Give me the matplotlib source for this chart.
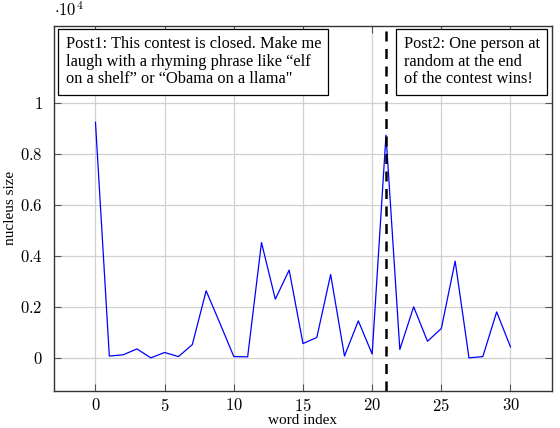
import matplotlib
matplotlib.use('Agg')
import matplotlib.pyplot as plt
from matplotlib.ticker import FuncFormatter

# nucleus size per word (in units of 10^4)
word_index = list(range(31))
nucleus_size = [0.923, 0.007, 0.012, 0.035, 0.0, 0.021, 0.005, 0.052, 0.263, 0.135,
                0.005, 0.004, 0.452, 0.230, 0.344, 0.056, 0.080, 0.327, 0.007, 0.145,
                0.015, 0.873, 0.033, 0.200, 0.065, 0.115, 0.379, 0.0, 0.005, 0.180,
                0.043]
post2_index = 21
post1_text = "Post1: This contest is closed. Make me\nlaugh with a rhyming phrase like \u201celf\non a shelf\u201d or \u201cObama on a llama\""
post2_text = "Post2: One person at\nrandom at the end\nof the contest wins!"

plt.rcParams['mathtext.fontset'] = 'cm'
plt.rcParams['font.family'] = ['Liberation Serif', 'DejaVu Serif']

fig = plt.figure(figsize=(5.6, 4.28), dpi=100)
ax = fig.add_axes([0.0964, 0.0864, 0.8893, 0.8536])

ax.plot(word_index, nucleus_size, color='#0000ff', linewidth=0.9, zorder=3)
ax.axvline(post2_index, color='black', linestyle=(0, (4, 3)), linewidth=1.8, zorder=4)

ax.set_xlim(-3, 33)
ax.set_ylim(-0.13, 1.302)
ax.set_xticks(range(0, 31, 5))
ax.set_yticks([0, 0.2, 0.4, 0.6, 0.8, 1.0])

def fmt(v, pos):
    s = ('%g' % round(v, 2))
    return '$%s$' % s
ax.xaxis.set_major_formatter(FuncFormatter(fmt))
ax.yaxis.set_major_formatter(FuncFormatter(fmt))

ax.grid(True, color='#d0d0d0', linewidth=0.9)
ax.set_axisbelow(True)
ax.tick_params(direction='in', length=5, width=0.8, color='#555555',
               top=True, right=True, labelsize=12)
ax.tick_params(axis='y', pad=8)
ax.tick_params(axis='x', pad=5)
for s in ax.spines.values():
    s.set_linewidth(1.0)
    s.set_color('#333333')

ax.set_xlabel('word index', fontsize=11, labelpad=-1)
ax.set_ylabel('nucleus size', fontsize=11, labelpad=2)
ax.text(0.0, 1.015, r'$\cdot 10^4$', transform=ax.transAxes, fontsize=12,
        ha='left', va='bottom')

box = dict(boxstyle='square,pad=0.45', facecolor='white', edgecolor='black', linewidth=0.9)
ax.text(-2.16, 1.262, post1_text, fontsize=11.8, ha='left', va='top', linespacing=1.15,
        bbox=box, zorder=6)
ax.text(22.28, 1.262, post2_text, fontsize=11.8, ha='left', va='top', linespacing=1.15,
        bbox=box, zorder=6)

fig.savefig('out.png', dpi=100)
